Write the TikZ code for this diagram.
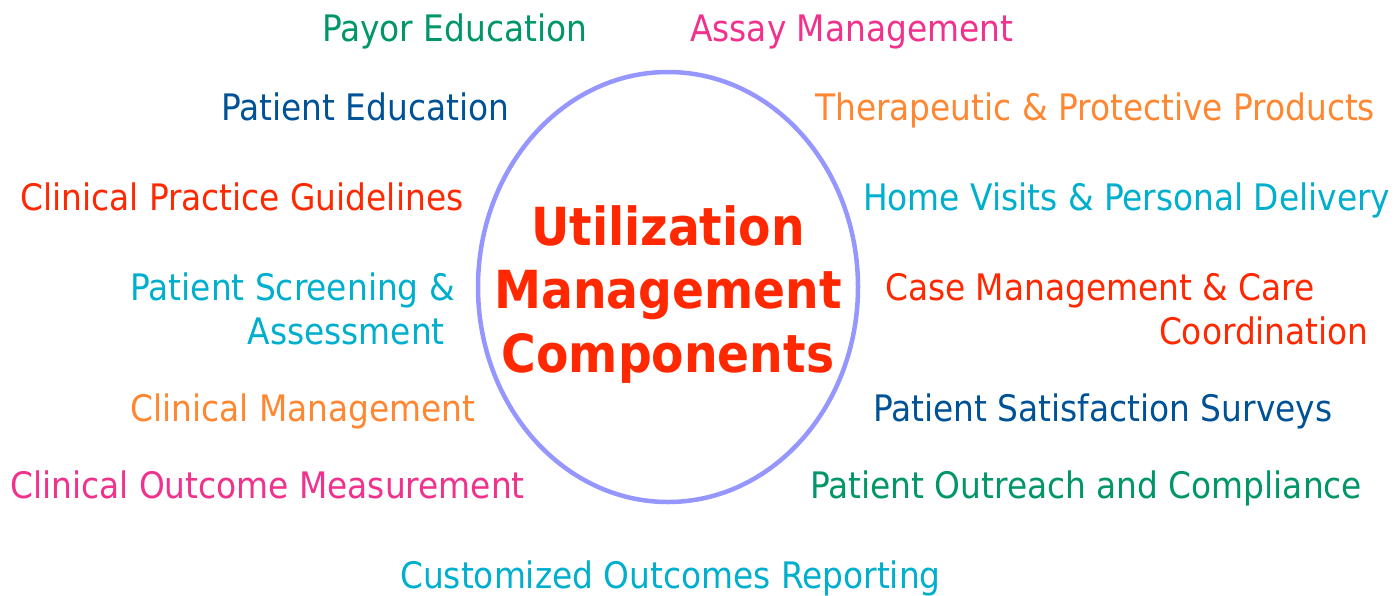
\documentclass[tikz,border=0pt]{standalone}
\usepackage{fontspec}
\usetikzlibrary{shapes.geometric}
\setmainfont{DejaVu Sans Condensed}
\definecolor{cgreen}{RGB}{0,150,105}
\definecolor{cpink}{RGB}{240,50,140}
\definecolor{cblue}{RGB}{0,82,150}
\definecolor{corange}{RGB}{255,135,50}
\definecolor{cred}{RGB}{255,40,0}
\definecolor{ccyan}{RGB}{0,175,205}
\definecolor{cring}{RGB}{150,150,255}
\begin{document}
\begin{tikzpicture}[x=1pt,y=-1pt,
  lbl/.style={inner sep=0pt,font=\fontsize{36.5}{44}\selectfont},
  lw/.style={lbl,anchor=base west},
  le/.style={lbl,anchor=base east},
  title/.style={inner sep=0pt,anchor=base,text=cred,font=\fontsize{52.5}{63}\selectfont\bfseries}]
\useasboundingbox (0,0) rectangle (1398,595);
\node[draw=cring,line width=4.5pt,ellipse,minimum width=380pt,minimum height=430pt,inner sep=0pt] (ring) at (668,287) {};
\node[title] (t1) at (668,245) {Utilization};
\node[title] (t2) at (668,308) {Management};
\node[title] (t3) at (668,372) {Components};
\node[lw,text=cgreen] (a1) at (322,41) {Payor Education};
\node[lw,text=cpink] (a2) at (690,41) {Assay Management};
\node[lw,text=cblue] (a3) at (221,120) {Patient Education};
\node[lw,text=corange] (a4) at (815,120) {Therapeutic \& Protective Products};
\node[lw,text=cred] (a5) at (20,210) {Clinical Practice Guidelines};
\node[lw,text=ccyan] (a6) at (863,210) {Home Visits \& Personal Delivery};
\node[le,text=ccyan] (a7) at (455,300) {Patient Screening \&};
\node[le,text=ccyan] (a7b) at (445,344) {Assessment};
\node[lw,text=cred] (a8) at (885,300) {Case Management \& Care};
\node[le,text=cred] (a8b) at (1369,344) {Coordination};
\node[lw,text=corange] (a9) at (130,421) {Clinical Management};
\node[lw,text=cblue] (a10) at (873,421) {Patient Satisfaction Surveys};
\node[lw,text=cpink] (a11) at (10,498) {Clinical Outcome Measurement};
\node[lw,text=cgreen] (a12) at (810,498) {Patient Outreach and Compliance};
\node[lw,text=ccyan] (a13) at (400,588) {Customized Outcomes Reporting};
\end{tikzpicture}
\end{document}
